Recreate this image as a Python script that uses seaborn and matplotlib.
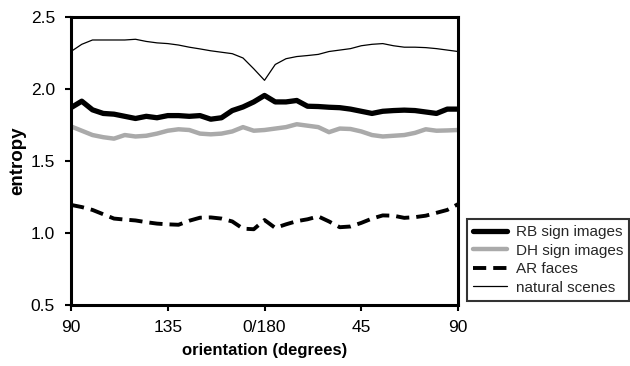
import matplotlib
matplotlib.use('Agg')
import matplotlib.pyplot as plt
import numpy as np
import pandas as pd
import seaborn as sns

# 数据：每 5 度一个采样点，共 37 个
position = np.arange(0, 181, 5)

rb_sign = [1.87, 1.915, 1.855, 1.83, 1.825, 1.81, 1.795, 1.81, 1.80, 1.815,
           1.815, 1.81, 1.815, 1.79, 1.80, 1.85, 1.875, 1.91, 1.955, 1.91,
           1.91, 1.92, 1.88, 1.878, 1.873, 1.87, 1.86, 1.845, 1.83, 1.845,
           1.85, 1.853, 1.85, 1.84, 1.83, 1.86, 1.86]
dh_sign = [1.74, 1.71, 1.68, 1.665, 1.655, 1.68, 1.67, 1.675, 1.69, 1.71,
           1.72, 1.715, 1.69, 1.685, 1.69, 1.705, 1.735, 1.71, 1.715, 1.725,
           1.735, 1.755, 1.745, 1.735, 1.70, 1.725, 1.722, 1.705, 1.68, 1.67,
           1.675, 1.68, 1.695, 1.72, 1.71, 1.712, 1.715]
ar_faces = [1.195, 1.18, 1.16, 1.13, 1.10, 1.093, 1.087, 1.075, 1.065, 1.06,
            1.057, 1.085, 1.106, 1.108, 1.10, 1.08, 1.03, 1.026, 1.09, 1.035,
            1.06, 1.082, 1.095, 1.115, 1.08, 1.04, 1.045, 1.07, 1.10, 1.122,
            1.12, 1.105, 1.11, 1.12, 1.14, 1.16, 1.20]
natural = [2.26, 2.31, 2.34, 2.34, 2.34, 2.34, 2.345, 2.33, 2.32, 2.315,
           2.305, 2.29, 2.278, 2.265, 2.255, 2.245, 2.215, 2.14, 2.06, 2.17,
           2.21, 2.225, 2.232, 2.24, 2.26, 2.27, 2.28, 2.30, 2.31, 2.315,
           2.30, 2.29, 2.29, 2.287, 2.28, 2.27, 2.26]

x_ticks = [0, 45, 90, 135, 180]
x_labels = ['90', '135', '0/180', '45', '90']
y_ticks = [0.5, 1.0, 1.5, 2.0, 2.5]

sns.set_style('white')
plt.rcParams['font.family'] = ['Liberation Sans', 'DejaVu Sans']

fig = plt.figure(figsize=(6.3, 3.66), dpi=100)
ax = fig.add_axes([0.1127, 0.1667, 0.6143, 0.787])

sns.lineplot(x=position, y=rb_sign, ax=ax, color='black', lw=3.8,
             label='RB sign images')
sns.lineplot(x=position, y=dh_sign, ax=ax, color='#aaaaaa', lw=3.2,
             label='DH sign images')
sns.lineplot(x=position, y=ar_faces, ax=ax, color='black', lw=2.8,
             ls=(0, (3.4, 1.8)), label='AR faces')
sns.lineplot(x=position, y=natural, ax=ax, color='black', lw=0.9,
             label='natural scenes')

ax.set_xlim(0, 180)
ax.set_ylim(0.5, 2.5)
ax.set_xticks(x_ticks)
ax.set_xticklabels(x_labels)
ax.set_yticks(y_ticks)
ax.set_yticklabels([f'{v:.1f}' for v in y_ticks])
ax.tick_params(axis='both', direction='out', length=4.5, width=1.5,
               labelsize=12.5, color='black', labelcolor='black',
               left=True, bottom=True)
ax.tick_params(axis='x', pad=6)
ax.tick_params(axis='y', pad=7)

for side in ax.spines.values():
    side.set_linewidth(2.2)
    side.set_color('black')

ax.set_xlabel('orientation (degrees)', fontsize=12, fontweight='bold',
              labelpad=6, color='black')
ax.set_ylabel('entropy', fontsize=13.5, fontweight='bold', labelpad=3,
              color='black')

leg = ax.legend(loc='lower left', bbox_to_anchor=(1.023, 0.014),
                fontsize=11, frameon=True, fancybox=False, handlelength=2.2,
                borderpad=0.4, labelspacing=0.3, handletextpad=0.6,
                borderaxespad=0)
leg.get_frame().set_edgecolor('black')
leg.get_frame().set_linewidth(1.5)

fig.savefig('out.png', dpi=100)
